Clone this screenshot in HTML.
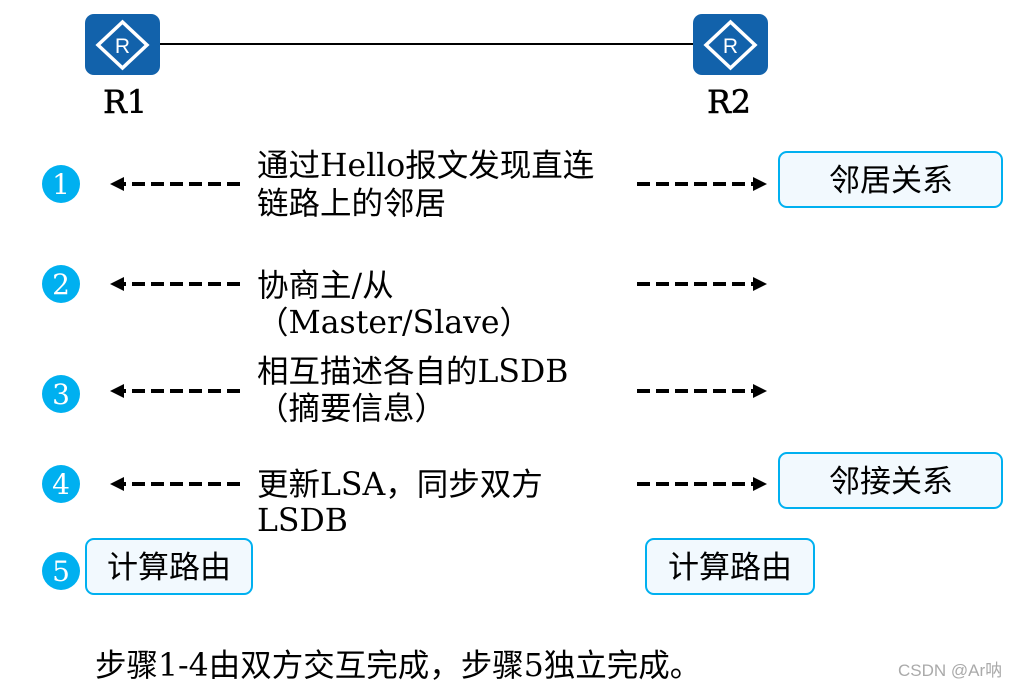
<!DOCTYPE html>
<html><head><meta charset="utf-8"><style>
html,body{margin:0;padding:0;background:#fff;}
svg{display:block;}
.t{font-family:"DejaVu Serif","Noto Sans CJK SC",serif;font-size:31.5px;fill:#000;}
.c{font-family:"Liberation Sans","Noto Sans CJK SC",sans-serif;font-size:31px;fill:#000;}
.n{font-family:"DejaVu Serif",serif;font-size:28px;fill:#fff;}
</style></head><body>
<svg width="1020" height="688" viewBox="0 0 1020 688" xmlns="http://www.w3.org/2000/svg">
<defs>
<g id="rt">
<rect x="0" y="0" width="75" height="61" rx="9" fill="#1262ab"/>
<polygon points="37.5,8 62,31 37.5,54 13,31" fill="none" stroke="#fff" stroke-width="3.5"/>
<text x="37.5" y="39" text-anchor="middle" font-family="Liberation Sans,sans-serif" font-size="21" fill="#fff">R</text>
</g>
</defs>
<line x1="160" y1="44" x2="693" y2="44" stroke="#000" stroke-width="2"/>
<use href="#rt" x="85" y="14"/>
<use href="#rt" x="693" y="14"/>
<text class="t" x="125" y="113" text-anchor="middle" font-size="30" stroke="#000" stroke-width="0.6">R1</text>
<text class="t" x="729" y="113" text-anchor="middle" font-size="30" stroke="#000" stroke-width="0.6">R2</text>

<g fill="#00b0f0">
<circle cx="61" cy="184" r="19"/><circle cx="61" cy="284" r="19"/><circle cx="61" cy="394" r="19"/><circle cx="61" cy="484" r="19"/><circle cx="61" cy="571" r="19"/>
</g>
<g class="n" text-anchor="middle">
<text x="61" y="194">1</text><text x="61" y="294">2</text><text x="61" y="404">3</text><text x="61" y="494">4</text><text x="61" y="581">5</text>
</g>

<g stroke="#000" stroke-width="4" stroke-dasharray="13,6" fill="none">
<line x1="240" y1="184" x2="120" y2="184"/>
<line x1="240" y1="284" x2="120" y2="284"/>
<line x1="240" y1="391" x2="120" y2="391"/>
<line x1="240" y1="484" x2="120" y2="484"/>
<line x1="637" y1="184" x2="757" y2="184"/>
<line x1="637" y1="284" x2="757" y2="284"/>
<line x1="637" y1="391" x2="757" y2="391"/>
<line x1="637" y1="484" x2="757" y2="484"/>
</g>
<g fill="#000">
<polygon points="110,184 124,177 124,191"/><polygon points="110,284 124,277 124,291"/><polygon points="110,391 124,384 124,398"/><polygon points="110,484 124,477 124,491"/>
<polygon points="767,184 753,177 753,191"/><polygon points="767,284 753,277 753,291"/><polygon points="767,391 753,384 753,398"/><polygon points="767,484 753,477 753,491"/>
</g>

<g class="t">
<text x="257" y="176">通过Hello报文发现直连</text>
<text x="257" y="214">链路上的邻居</text>
<text x="257" y="296">协商主/从</text>
<text x="257" y="333">（Master/Slave）</text>
<text x="257" y="382">相互描述各自的LSDB</text>
<text x="257" y="419">（摘要信息）</text>
<text x="257" y="495">更新LSA，同步双方</text>
<text x="257" y="531">LSDB</text>
</g>

<g fill="#f2f9fe" stroke="#00b0f0" stroke-width="2">
<rect x="779" y="152" width="223" height="55" rx="8"/>
<rect x="779" y="453" width="223" height="55" rx="8"/>
<rect x="86" y="539" width="166" height="55" rx="8"/>
<rect x="646" y="539" width="168" height="55" rx="8"/>
</g>
<g class="c" text-anchor="middle">
<text x="891" y="191">邻居关系</text>
<text x="891" y="492">邻接关系</text>
<text x="169" y="578">计算路由</text>
<text x="730" y="578">计算路由</text>
</g>
<text class="t" x="95" y="676">步骤1-4由双方交互完成，步骤5独立完成。</text>
<text x="898" y="676" font-family="Liberation Sans,'Noto Sans CJK SC',sans-serif" font-size="17" fill="#aaa">CSDN @Ar呐</text>
</svg>
</body></html>
